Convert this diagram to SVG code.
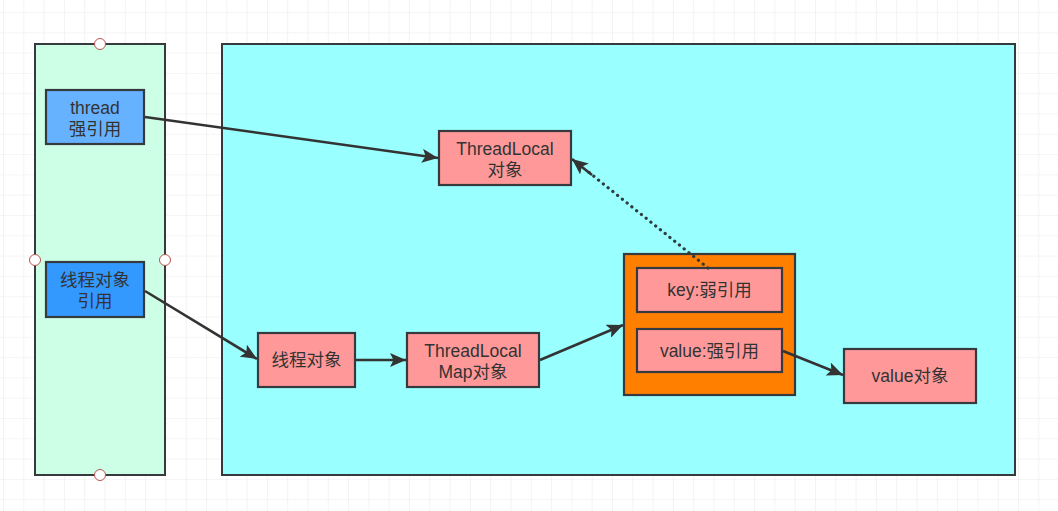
<svg xmlns="http://www.w3.org/2000/svg" width="1058" height="511" viewBox="0 0 1058 511">
  <style>
    .lbl { font-family: "Liberation Sans", "Noto Sans CJK SC", sans-serif; font-size: 17.5px; fill: #333333; text-anchor: middle; }
    .box { stroke: #36393d; stroke-width: 2.2; }
    .pink { fill: #ff9999; }
    .panel { stroke: #36393d; stroke-width: 2; }
    .edge { stroke: #333333; stroke-width: 2.6; fill: none; }
    .dots { stroke: #2f3b3d; stroke-width: 3.2; fill: none; stroke-dasharray: 0.1 6; stroke-linecap: round; }
    .handle { fill: #ffffff; stroke: #b85450; stroke-width: 1; }
  </style>
  <defs>
    <pattern id="grid" patternUnits="userSpaceOnUse" x="3" y="12" width="20.3" height="20.3">
      <path d="M0,0 H20.3 M0,0 V20.3" stroke="#ebebeb" stroke-width="1.2" fill="none"/>
    </pattern>
    <marker id="arrow" markerUnits="userSpaceOnUse" markerWidth="18" markerHeight="14" refX="16" refY="7" orient="auto">
      <path d="M0,0 L16,7 L0,14 L3.5,7 Z" fill="#333333"/>
    </marker>
  </defs>

  <!-- background grid -->
  <rect x="0" y="0" width="1058" height="511" fill="#ffffff"/>
  <rect x="0" y="0" width="1058" height="511" fill="url(#grid)"/>

  <!-- stack side panel -->
  <g id="stack">
    <rect class="panel" x="35" y="44" width="130" height="431" fill="#ccffe6"/>
    <circle class="handle" cx="100" cy="44" r="5.5"/>
    <circle class="handle" cx="35" cy="260" r="5.5"/>
    <circle class="handle" cx="165" cy="260" r="5.5"/>
    <circle class="handle" cx="100" cy="475" r="5.5"/>
  </g>

  <!-- heap panel -->
  <g id="heap">
    <rect class="panel" x="222" y="44" width="793" height="431" fill="#99ffff"/>
  </g>

  <g id="thread-ref">
    <rect class="box" x="46" y="90" width="98" height="54" fill="#66b2ff"/>
    <text class="lbl" x="95" y="114">thread<tspan x="95" dy="21">强引用</tspan></text>
  </g>

  <g id="thread-obj-ref">
    <rect class="box" x="46" y="262" width="98" height="55" fill="#3399ff"/>
    <text class="lbl" x="95" y="286">线程对象<tspan x="95" dy="21">引用</tspan></text>
  </g>

  <g id="threadlocal">
    <rect class="box pink" x="439" y="131" width="132" height="54"/>
    <text class="lbl" x="505" y="155">ThreadLocal<tspan x="505" dy="21">对象</tspan></text>
  </g>

  <g id="thread-obj">
    <rect class="box pink" x="258" y="333" width="97" height="54"/>
    <text class="lbl" x="306.5" y="366">线程对象</text>
  </g>

  <g id="threadlocal-map">
    <rect class="box pink" x="407" y="333" width="132" height="54"/>
    <text class="lbl" x="473" y="357">ThreadLocal<tspan x="473" dy="21">Map对象</tspan></text>
  </g>

  <g id="entry">
    <rect class="box" x="624" y="254" width="171" height="141" fill="#ff8000"/>
  </g>

  <g id="entry-key">
    <rect class="box pink" x="637" y="268" width="145" height="44"/>
    <text class="lbl" x="709.5" y="296">key:弱引用</text>
  </g>

  <g id="entry-value">
    <rect class="box pink" x="637" y="329" width="145" height="43"/>
    <text class="lbl" x="709.5" y="357">value:强引用</text>
  </g>

  <g id="value-obj">
    <rect class="box pink" x="844" y="349" width="132" height="54"/>
    <text class="lbl" x="910" y="382">value对象</text>
  </g>

  <!-- references -->
  <g id="connectors">
    <line class="edge" x1="145" y1="117" x2="438" y2="158" marker-end="url(#arrow)"/>
    <line class="edge" x1="145" y1="291" x2="257" y2="359" marker-end="url(#arrow)"/>
    <line class="edge" x1="356" y1="360" x2="406" y2="360" marker-end="url(#arrow)"/>
    <line class="edge" x1="540" y1="360" x2="623" y2="325" marker-end="url(#arrow)"/>
    <line class="edge" x1="783" y1="351" x2="843" y2="375" marker-end="url(#arrow)"/>
    <!-- weak reference: dotted line with its own head -->
    <line class="dots" x1="708" y1="268" x2="586" y2="170"/>
    <line class="edge" x1="592" y1="175" x2="572" y2="159" stroke-width="0.5" marker-end="url(#arrow)"/>
  </g>
</svg>
